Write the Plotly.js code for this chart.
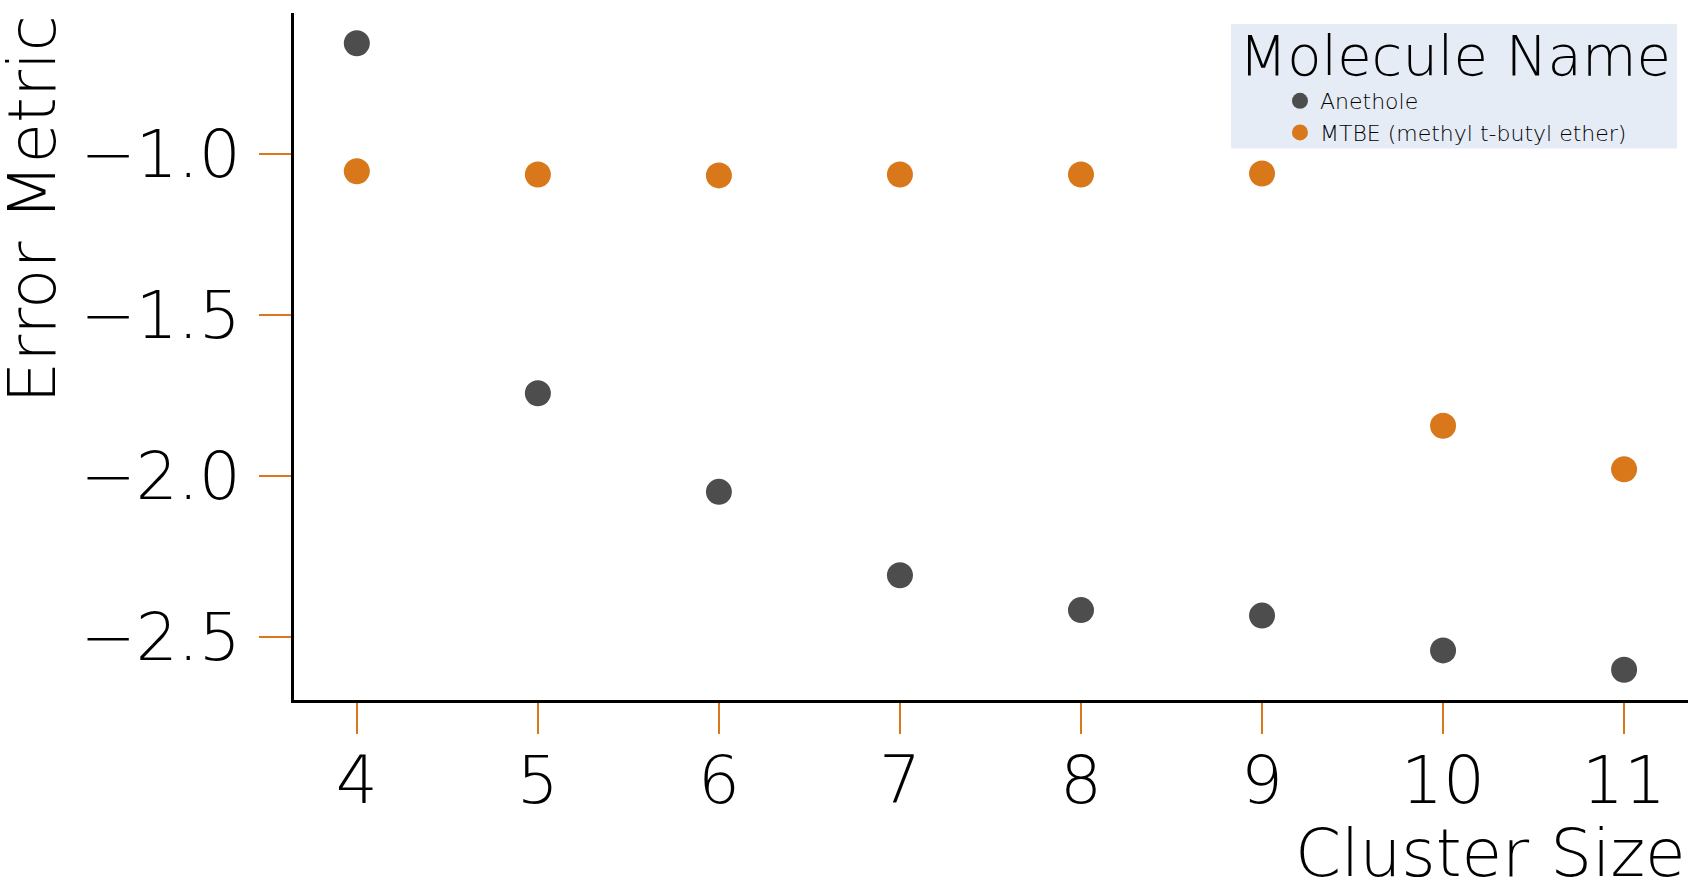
<!DOCTYPE html>
<html>
<head>
<meta charset="utf-8">
<script src="https://cdn.plot.ly/plotly-3.0.1.min.js"></script>
<style>
  body { margin: 0; background: #fff; }
  #chart { width: 1699px; height: 884px; }
</style>
</head>
<body>
<div id="chart"></div>
<script>
const clusterSizes = [4, 5, 6, 7, 8, 9, 10, 11];
const anetholeErrors = [-0.657, -1.743, -2.049, -2.308, -2.416, -2.433, -2.541, -2.601];
const mtbeErrors = [-1.054, -1.064, -1.067, -1.064, -1.064, -1.061, -1.844, -1.979];
const seriesNames = ['Anethole', 'MTBE (methyl t-butyl ether)'];
const yTicks = [-1.0, -1.5, -2.0, -2.5];
const legendTitle = 'Molecule Name';

const thin = 'DejaVu Sans, sans-serif';
const orange = '#d9781a';
const grey = '#4d4d4d';

const data = [
    {
        x: clusterSizes, y: anetholeErrors, name: seriesNames[0],
        mode: 'markers', type: 'scatter',
        marker: { color: grey, size: 26 }
    },
    {
        x: clusterSizes, y: mtbeErrors, name: seriesNames[1],
        mode: 'markers', type: 'scatter',
        marker: { color: orange, size: 26 }
    }
];

const layout = {
    width: 1699,
    height: 884,
    margin: { l: 294, r: 11, t: 13, b: 184 },
    paper_bgcolor: '#fff',
    plot_bgcolor: '#fff',
    font: { family: thin, color: '#000', weight: 200 },
    showlegend: true,
    xaxis: {
        range: [3.653, 11.353],
        tickvals: clusterSizes,
        ticks: 'outside', ticklen: 31, tickwidth: 2, tickcolor: orange,
        ticklabelstandoff: -10,
        tickfont: { size: 66, family: thin, weight: 200 },
        showline: true, linecolor: '#000', linewidth: 3,
        showgrid: false, zeroline: false
    },
    yaxis: {
        range: [-2.695, -0.563],
        tickvals: yTicks,
        tickformat: '.1f',
        ticks: 'outside', ticklen: 32, tickwidth: 2, tickcolor: orange,
        ticklabelstandoff: 5,
        tickfont: { size: 66, family: thin, weight: 200 },
        showline: true, linecolor: '#000', linewidth: 3,
        showgrid: false, zeroline: false
    },
    legend: {
        x: 0.7073, xanchor: 'left',
        y: 0.9025, yanchor: 'top',
        bgcolor: 'rgba(0,0,0,0)',
        font: { size: 22, family: thin, weight: 200 },
        tracegroupgap: 0
    },
    shapes: [
        {
            type: 'rect', xref: 'paper', yref: 'paper', layer: 'below',
            x0: 0.6722, x1: 0.9921, y0: 0.8029, y1: 0.984,
            fillcolor: '#e5ecf6', line: { width: 0 }
        }
    ],
    annotations: [
        {
            text: legendTitle, xref: 'paper', yref: 'paper',
            x: 0.8326, xanchor: 'center', y: 0.9377, yanchor: 'middle',
            showarrow: false, font: { size: 56, family: thin, weight: 200 }
        },
        {
            text: 'Cluster Size', xref: 'paper', yref: 'paper',
            x: 1, xanchor: 'right', y: -0.224, yanchor: 'middle',
            showarrow: false, font: { size: 66, family: thin, weight: 200 }
        },
        {
            text: 'Error Metric', xref: 'paper', yref: 'paper',
            x: -0.1876, xanchor: 'center', y: 1, yanchor: 'top',
            textangle: -90,
            showarrow: false, font: { size: 66, family: thin, weight: 200 }
        }
    ]
};

Plotly.newPlot('chart', data, layout, { displayModeBar: false });
</script>
</body>
</html>
